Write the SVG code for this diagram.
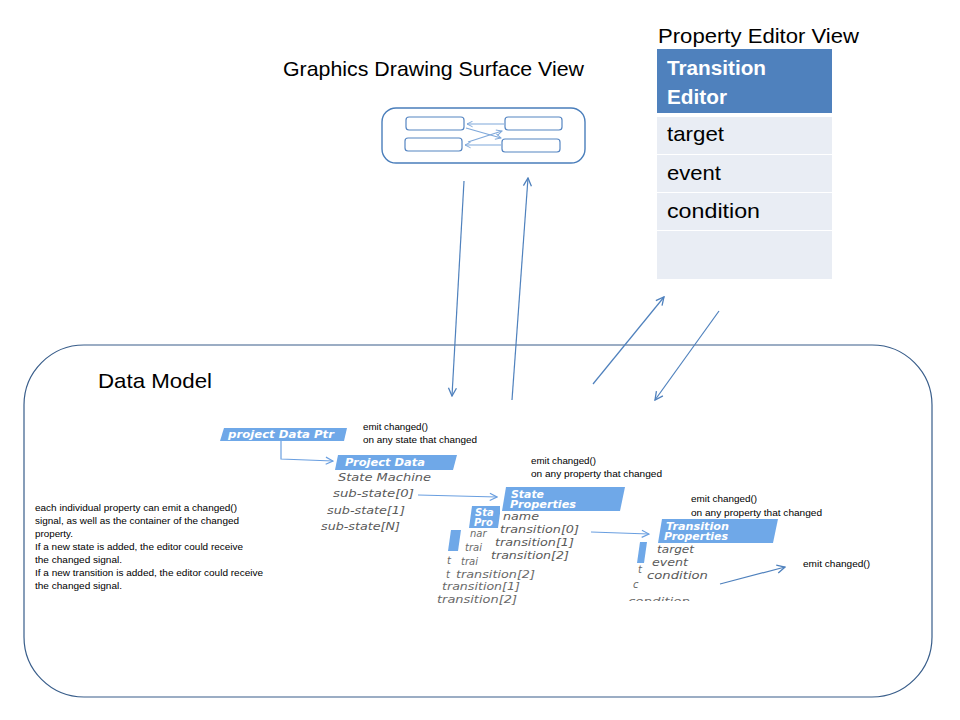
<svg xmlns="http://www.w3.org/2000/svg" width="960" height="720" viewBox="0 0 960 720">
<style>
.title{font-family:"Liberation Sans",Arial,sans-serif;font-size:21px;fill:#000}
.cell{font-family:"Liberation Sans",Arial,sans-serif;font-size:21px;fill:#000}
.hdr{font-family:"Liberation Sans",Arial,sans-serif;font-size:20px;font-weight:bold;fill:#fff}
.note{font-family:"Liberation Sans",Arial,sans-serif;font-size:9px;fill:#000}
.lbl{font-family:"DejaVu Sans","Liberation Sans",sans-serif;font-size:10px;font-weight:bold;font-style:italic;fill:#fff}
.it{font-family:"DejaVu Sans","Liberation Sans",sans-serif;font-size:10px;font-style:italic;fill:#5a5a5a}
.it2{font-family:"DejaVu Sans","Liberation Sans",sans-serif;font-size:10px;font-style:italic;fill:#6a6a6a}
.box{fill:#6FA8E8}
.conn{fill:none;stroke:#4F81BD;stroke-width:1.2}
.iconn{fill:none;stroke:#6A9FE0;stroke-width:1.2}
.gbox{fill:#fff;stroke:#5585C2;stroke-width:1.2}
</style>
<defs>
<marker id="arr" viewBox="0 0 10 10" refX="9" refY="5" markerWidth="10" markerHeight="10" markerUnits="userSpaceOnUse" orient="auto">
<path d="M1,1 L9,5 L1,9" fill="none" stroke="#4F81BD" stroke-width="1.3"/>
</marker>
<marker id="iarr" viewBox="0 0 10 10" refX="9" refY="5" markerWidth="9" markerHeight="9" markerUnits="userSpaceOnUse" orient="auto">
<path d="M1,1 L9,5 L1,9" fill="none" stroke="#6A9FE0" stroke-width="1.3"/>
</marker>
<marker id="sarr" viewBox="0 0 10 10" refX="9" refY="5" markerWidth="7" markerHeight="7" markerUnits="userSpaceOnUse" orient="auto">
<path d="M1,1 L9,5 L1,9" fill="none" stroke="#7FA8DA" stroke-width="1.4"/>
</marker>
<clipPath id="cutBottom"><rect x="600" y="560" width="120" height="41"/></clipPath>
</defs>

<g id="data-model">
<rect x="24" y="345" width="908" height="352" rx="60" ry="60" fill="#fff" stroke="#385D8A" stroke-width="1.2"/>
<text class="title" x="98" y="388" textLength="114" lengthAdjust="spacingAndGlyphs">Data Model</text>
</g>

<g id="graphics-view">
<text class="title" x="283" y="76" textLength="301" lengthAdjust="spacingAndGlyphs">Graphics Drawing Surface View</text>
<rect x="382" y="108" width="203" height="55" rx="14" ry="14" fill="#fff" stroke="#4A7EBB" stroke-width="1.4"/>
<rect class="gbox" x="406" y="117" width="58" height="13" rx="3"/>
<rect class="gbox" x="505" y="117" width="57" height="13" rx="3"/>
<rect class="gbox" x="405" y="138" width="57" height="13" rx="3"/>
<rect class="gbox" x="502" y="139" width="58" height="13" rx="3"/>
<g class="inner-arrows">
<line x1="504" y1="124" x2="467" y2="124" stroke="#7FA8DA" stroke-width="1.2" marker-end="url(#sarr)"/>
<line x1="501" y1="145" x2="465" y2="145" stroke="#7FA8DA" stroke-width="1.2" marker-end="url(#sarr)"/>
<line x1="466" y1="128" x2="501" y2="138" stroke="#7FA8DA" stroke-width="1.2" marker-end="url(#sarr)"/>
<line x1="468" y1="142" x2="502" y2="131" stroke="#7FA8DA" stroke-width="1.2" marker-end="url(#sarr)"/>
</g>
</g>

<g id="property-editor">
<text class="title" x="658" y="43" textLength="201" lengthAdjust="spacingAndGlyphs">Property Editor View</text>
<rect x="657" y="49" width="175" height="64" fill="#4F81BD"/>
<text class="hdr" x="667" y="75" textLength="99" lengthAdjust="spacingAndGlyphs">Transition</text>
<text class="hdr" x="667" y="104" textLength="60" lengthAdjust="spacingAndGlyphs">Editor</text>
<rect x="657" y="117" width="175" height="37" fill="#E9EDF4"/>
<rect x="657" y="155" width="175" height="37" fill="#E9EDF4"/>
<rect x="657" y="193" width="175" height="37" fill="#E9EDF4"/>
<rect x="657" y="231" width="175" height="48" fill="#E9EDF4"/>
<text class="cell" x="667" y="141" textLength="57" lengthAdjust="spacingAndGlyphs">target</text>
<text class="cell" x="667" y="180" textLength="54" lengthAdjust="spacingAndGlyphs">event</text>
<text class="cell" x="667" y="218" textLength="93" lengthAdjust="spacingAndGlyphs">condition</text>
</g>

<g id="notes">
<text class="note" x="35" y="511" textLength="202" lengthAdjust="spacingAndGlyphs">each individual property can emit a changed()</text>
<text class="note" x="35" y="524" textLength="204" lengthAdjust="spacingAndGlyphs">signal, as well as the  container of the changed</text>
<text class="note" x="35" y="537" textLength="38" lengthAdjust="spacingAndGlyphs">property.</text>
<text class="note" x="35" y="550" textLength="208" lengthAdjust="spacingAndGlyphs">If a new state is added, the editor could receive</text>
<text class="note" x="35" y="563" textLength="87" lengthAdjust="spacingAndGlyphs">the changed signal.</text>
<text class="note" x="35" y="576" textLength="228" lengthAdjust="spacingAndGlyphs">If a new transition is added, the editor could receive</text>
<text class="note" x="35" y="589" textLength="87" lengthAdjust="spacingAndGlyphs">the changed signal.</text>
</g>

<g id="project-data-ptr">
<polygon class="box" points="224,428 347,428 344,441 220,441"/>
<text class="lbl" x="228" y="438" textLength="106" lengthAdjust="spacingAndGlyphs">project Data Ptr</text>
<text class="note" x="363" y="430" textLength="65" lengthAdjust="spacingAndGlyphs">emit changed()</text>
<text class="note" x="363" y="443" textLength="114" lengthAdjust="spacingAndGlyphs">on any state that changed</text>
</g>

<g id="project-data">
<polygon class="box" points="338,455 457,455 453,470 335,470"/>
<text class="lbl" x="345" y="466" textLength="80" lengthAdjust="spacingAndGlyphs">Project Data</text>
<text class="it" x="338" y="481" textLength="93" lengthAdjust="spacingAndGlyphs">State Machine</text>
<text class="it" x="333" y="497" textLength="81" lengthAdjust="spacingAndGlyphs">sub-state[0]</text>
<text class="it" x="327" y="514" textLength="78" lengthAdjust="spacingAndGlyphs">sub-state[1]</text>
<text class="it" x="321" y="530" textLength="79" lengthAdjust="spacingAndGlyphs">sub-state[N]</text>
<text class="note" x="531" y="464" textLength="65" lengthAdjust="spacingAndGlyphs">emit changed()</text>
<text class="note" x="531" y="477" textLength="131" lengthAdjust="spacingAndGlyphs">on any property that changed</text>
</g>

<g id="state-properties">
<polygon class="box" points="451,530 461,530 458,551 448,551"/>
<polygon class="box" points="472,506 501,506 498,528 469,528"/>
<text class="lbl" x="475" y="516">Sta</text>
<text class="lbl" x="474" y="526">Pro</text>
<rect x="500" y="504" width="12" height="26" fill="#fff"/>
<polygon class="box" points="506,487 625,487 620,511 502,511"/>
<text class="lbl" x="511" y="498" textLength="33" lengthAdjust="spacingAndGlyphs">State</text>
<text class="lbl" x="510" y="508" textLength="66" lengthAdjust="spacingAndGlyphs">Properties</text>
<text class="it" x="503" y="520" textLength="36" lengthAdjust="spacingAndGlyphs">name</text>
<text class="it" x="500" y="533" textLength="79" lengthAdjust="spacingAndGlyphs">transition[0]</text>
<text class="it" x="495" y="546" textLength="79" lengthAdjust="spacingAndGlyphs">transition[1]</text>
<text class="it" x="491" y="559" textLength="78" lengthAdjust="spacingAndGlyphs">transition[2]</text>
<text class="it2" x="470" y="537">nar</text>
<text class="it2" x="465" y="551">trai</text>
<text class="it2" x="461" y="565">trai</text>
<text class="it2" x="447" y="564" font-size="7">t</text>
<text class="it2" x="446" y="578" font-size="8">t</text>
<text class="it2" x="456" y="578" textLength="79" lengthAdjust="spacingAndGlyphs">transition[2]</text>
<text class="it2" x="442" y="590" textLength="78" lengthAdjust="spacingAndGlyphs">transition[1]</text>
<text class="it2" x="437" y="603" textLength="80" lengthAdjust="spacingAndGlyphs">transition[2]</text>
</g>

<g id="transition-properties">
<polygon class="box" points="640,542 647,542 644,563 637,563"/>
<polygon class="box" points="662,519 778,519 773,543 658,543"/>
<text class="lbl" x="666" y="530" textLength="63" lengthAdjust="spacingAndGlyphs">Transition</text>
<text class="lbl" x="664" y="540" textLength="64" lengthAdjust="spacingAndGlyphs">Properties</text>
<text class="it" x="657" y="553" textLength="37" lengthAdjust="spacingAndGlyphs">target</text>
<text class="it" x="652" y="566" textLength="36" lengthAdjust="spacingAndGlyphs">event</text>
<text class="it" x="647" y="579" textLength="61" lengthAdjust="spacingAndGlyphs">condition</text>
<text class="it2" x="638" y="573" font-size="7">t</text>
<text class="it2" x="633" y="588" font-size="7">c</text>
<text class="it2" x="628" y="605" clip-path="url(#cutBottom)" textLength="62" lengthAdjust="spacingAndGlyphs">condition</text>
<text class="note" x="691" y="502" textLength="66" lengthAdjust="spacingAndGlyphs">emit changed()</text>
<text class="note" x="691" y="516" textLength="131" lengthAdjust="spacingAndGlyphs">on any property that changed</text>
<text class="note" x="803" y="567" textLength="67" lengthAdjust="spacingAndGlyphs">emit changed()</text>
</g>

<g id="connectors">
<line class="conn" x1="464" y1="181" x2="452" y2="396" marker-end="url(#arr)"/>
<line class="conn" x1="512" y1="400" x2="528" y2="178" marker-end="url(#arr)"/>
<line class="conn" x1="593" y1="384" x2="664" y2="297" marker-end="url(#arr)"/>
<line class="conn" x1="719" y1="311" x2="655" y2="400" marker-end="url(#arr)"/>
<path class="iconn" d="M281,441 L281,459 L333,461" marker-end="url(#iarr)"/>
<line class="iconn" x1="418" y1="495" x2="497" y2="497" marker-end="url(#iarr)"/>
<line class="iconn" x1="591" y1="532" x2="649" y2="534" marker-end="url(#iarr)"/>
<line class="conn" x1="720" y1="584" x2="785" y2="567" marker-end="url(#arr)"/>
</g>
</svg>
